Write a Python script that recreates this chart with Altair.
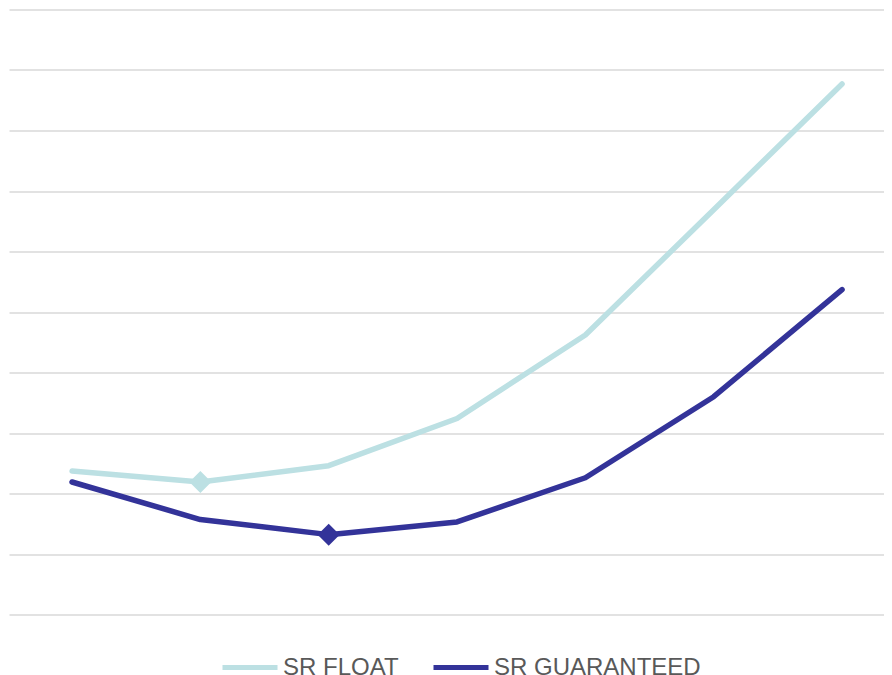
import altair as alt
import pandas as pd

points = [0, 1, 2, 3, 4, 5, 6]
sr_float = [2.37, 2.19, 2.46, 3.24, 4.62, 6.69, 8.77]
sr_guaranteed = [2.19, 1.57, 1.32, 1.53, 2.26, 3.60, 5.37]
series_names = ["SR FLOAT", "SR GUARANTEED"]
series_colors = ["#BCE0E3", "#333399"]
marker_float_idx = 1
marker_guar_idx = 2

rows = []
for i, v in zip(points, sr_float):
    rows.append({"i": i, "v": v, "s": series_names[0]})
for i, v in zip(points, sr_guaranteed):
    rows.append({"i": i, "v": v, "s": series_names[1]})
df = pd.DataFrame(rows)
mk = pd.DataFrame([
    {"i": marker_float_idx, "v": sr_float[marker_float_idx], "s": series_names[0]},
    {"i": marker_guar_idx, "v": sr_guaranteed[marker_guar_idx], "s": series_names[1]},
])

x = alt.X("i:Q", scale=alt.Scale(domain=[-0.491, 6.327], nice=False, zero=False), axis=None)
y = alt.Y("v:Q", scale=alt.Scale(domain=[0, 10], nice=False),
          axis=alt.Axis(values=list(range(11)), grid=True, gridColor="#d9d9d9", gridWidth=1.3,
                        domain=False, ticks=False, labels=False, title=None))
color = alt.Color("s:N", scale=alt.Scale(domain=series_names, range=series_colors),
                  legend=alt.Legend(orient="none", legendX=211, legendY=628, direction="horizontal",
                                    title=None,
                                    symbolType="stroke", symbolSize=3025, symbolStrokeWidth=5,
                                    labelFont="Liberation Sans", labelFontSize=24, labelColor="#595959",
                                    labelLimit=400,
                                    labelOffset=3, columnPadding=24, symbolOffset=0, padding=0))

lines = alt.Chart(df).mark_line(strokeWidth=5.5, strokeCap="round", strokeJoin="round").encode(
    x=x, y=y, color=color)
markers = alt.Chart(mk).mark_point(shape="diamond", filled=True, size=484, opacity=1).encode(
    x=x, y=y, color=alt.Color("s:N", scale=alt.Scale(domain=series_names, range=series_colors), legend=None))

chart = alt.layer(lines, markers).properties(
    width=875, height=605,
    autosize=alt.AutoSizeParams(type="none"),
    padding={"left": 1, "top": 1.5, "right": 0, "bottom": 70},
).configure(background="white").configure_view(stroke="transparent", strokeWidth=0)

chart.save("out.html", embed_options={"renderer": "svg", "actions": False})
